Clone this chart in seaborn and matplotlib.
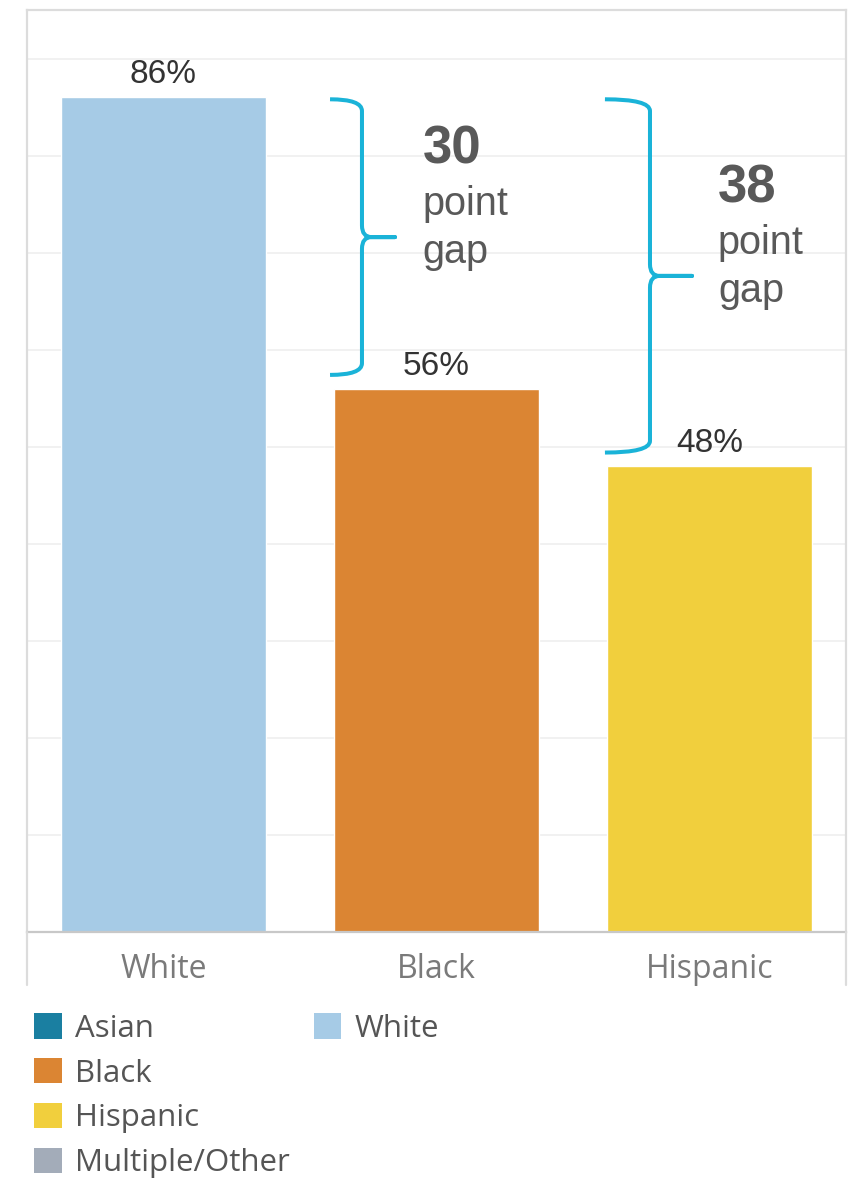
import matplotlib
matplotlib.use("Agg")
import matplotlib.pyplot as plt
from matplotlib.path import Path
from matplotlib.patches import PathPatch, Patch
from matplotlib.lines import Line2D
import seaborn as sns
import pandas as pd

# ---- data ----
categories = ["White", "Black", "Hispanic"]
values = [86, 56, 48]
bar_colors = ["#a6cbe6", "#db8533", "#f1cf3d"]
legend_labels = ["Asian", "Black", "Hispanic", "Multiple/Other", "White"]
legend_colors = ["#1a7fa1", "#db8533", "#f1cf3d", "#a3acb9", "#a6cbe6"]
ygrid = [10, 20, 30, 40, 50, 60, 70, 80, 90]

sns.set_theme(style="white")
plt.rcParams["font.family"] = ["Open Sans", "DejaVu Sans"]

W, H, DPI = 853, 1183, 100
fig = plt.figure(figsize=(W / DPI, H / DPI), dpi=DPI)
ax_l, ax_r, ax_b, ax_t = 27, 846, 932, 10
ax = fig.add_axes([ax_l / W, 1 - ax_b / H, (ax_r - ax_l) / W, (ax_b - ax_t) / H])

df = pd.DataFrame({"cat": categories, "val": values})
sns.barplot(data=df, x="cat", y="val", hue="cat", palette=bar_colors,
            order=categories, hue_order=categories, width=0.75,
            saturation=1, legend=False, ax=ax, zorder=2)

ax.set_xlim(-0.5, 2.5)
ax.set_ylim(0, 95)
ax.set_xlabel("")
ax.set_ylabel("")
ax.set_yticks(ygrid)
ax.set_yticklabels([])
ax.tick_params(axis="y", length=0)
ax.yaxis.grid(True, color="#efefef", linewidth=1.2, zorder=0)
ax.set_axisbelow(True)
ax.tick_params(axis="x", which="major", length=0, pad=15, labelsize=23,
               labelcolor="#7a7a7a")
ax.set_xticks([0.5, 1.5], minor=True)
ax.tick_params(axis="x", which="minor", length=10, width=1, color="#ececec",
               direction="out")

for side in ["left", "right", "top"]:
    ax.spines[side].set_color("#dcdcdc")
    ax.spines[side].set_linewidth(1.6)
ax.spines["bottom"].set_color("#c8c8c8")
ax.spines["bottom"].set_linewidth(1.6)

# extend the side borders below the axis
for xp in (ax_l, ax_r):
    fig.add_artist(Line2D([xp / W, xp / W], [1 - ax_b / H, 1 - 985 / H],
                          transform=fig.transFigure, color="#dcdcdc", lw=1.6))

# value labels
for i, v in enumerate(values):
    ax.annotate(f"{v}%", (i, v), xytext=(0, 10), textcoords="offset points",
                ha="center", va="baseline", fontsize=24, color="#333333",
                family=["Liberation Sans", "DejaVu Sans"])

# braces
brace_color = "#1ab3d8"


def brace(x0, xv, xt, y_top, y_bot, ry=1.2, dx=0.035):
    ym = (y_top + y_bot) / 2
    verts = [(x0, y_top), (xv, y_top), (xv, y_top - ry),
             (xv, ym + ry), (xv, ym), (xv + dx, ym),
             (xt, ym), (xv + dx, ym),
             (xv, ym), (xv, ym - ry),
             (xv, y_bot + ry), (xv, y_bot), (x0, y_bot)]
    codes = [Path.MOVETO, Path.CURVE3, Path.CURVE3,
             Path.LINETO, Path.CURVE3, Path.CURVE3,
             Path.LINETO, Path.LINETO,
             Path.CURVE3, Path.CURVE3,
             Path.LINETO, Path.CURVE3, Path.CURVE3]
    ax.add_patch(PathPatch(Path(verts, codes), fill=False, edgecolor=brace_color,
                           lw=2.9, capstyle="butt", joinstyle="round", zorder=3))
    return ym


gap_font = ["Liberation Sans", "DejaVu Sans"]
specs = [
    # (lower index, x0, xv, xtip, xtext)
    (1, 0.61, 0.727, 0.848, 0.95),
    (2, 1.617, 1.782, 1.936, 2.031),
]
for idx, x0, xv, xt, xtext in specs:
    ym = brace(x0, xv, xt, values[0] - 0.2, values[idx] + 1.4)
    gap = values[0] - values[idx]
    ax.text(xtext, ym + 7.6, f"{gap}", fontsize=38, fontweight="bold",
            color="#595959", family=gap_font, va="baseline", ha="left")
    ax.text(xtext, ym + 2.3, "point", fontsize=28.5, color="#595959",
            family=gap_font, va="baseline", ha="left")
    ax.text(xtext, ym - 2.7, "gap", fontsize=28.5, color="#595959",
            family=gap_font, va="baseline", ha="left")

# legend (two columns, 4 + 1)
handles = [Patch(facecolor=c, edgecolor="none") for c in legend_colors]
common = dict(frameon=False, fontsize=22.5, handlelength=0.88, handleheight=0.88,
              handletextpad=0.43, labelspacing=0.46, borderpad=0,
              borderaxespad=0, labelcolor="#555555", loc="upper left")
leg1 = fig.legend(handles[:4], legend_labels[:4],
                  bbox_to_anchor=(34 / W, 1 - 1013 / H), **common)
leg2 = fig.legend(handles[4:], legend_labels[4:],
                  bbox_to_anchor=(314 / W, 1 - 1013 / H), **common)

fig.savefig("out.png", dpi=DPI, facecolor="white")
